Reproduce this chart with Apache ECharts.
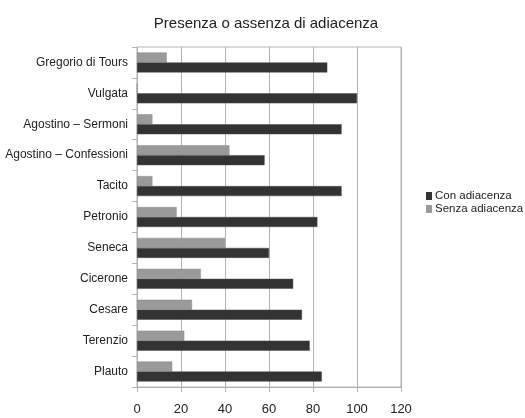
<!DOCTYPE html>
<html>
<head>
<meta charset="utf-8">
<script src="https://cdn.jsdelivr.net/npm/echarts@6/dist/echarts.min.js"></script>
<style>
  html, body { margin: 0; padding: 0; background: #ffffff; }
  #chart { width: 525px; height: 418px; }
</style>
</head>
<body>
<div id="chart"></div>
<script>
// Authors, listed bottom to top along the category axis
const categories = [
  'Plauto', 'Terenzio', 'Cesare', 'Cicerone', 'Seneca', 'Petronio',
  'Tacito', 'Agostino – Confessioni', 'Agostino – Sermoni', 'Vulgata', 'Gregorio di Tours'
];
const conAdiacenza = [84, 78.5, 75, 71, 60, 82, 93, 58, 93, 100, 86.5];
const senzaAdiacenza = [16, 21.5, 25, 29, 40, 18, 7, 42, 7, 0, 13.5];
const xTicks = [0, 20, 40, 60, 80, 100, 120];

const FONT = '"Liberation Sans", Arial, sans-serif';
const LINE = '#b3b3b3';
const CON_COLOR = '#333333';
const SENZA_COLOR = '#9a9a9a';

const chart = echarts.init(document.getElementById('chart'), null, { renderer: 'canvas' });
chart.setOption({
  animation: false,
  backgroundColor: '#ffffff',
  title: {
    text: 'Presenza o assenza di adiacenza',
    left: 261, top: 11, textAlign: 'center',
    textStyle: { fontFamily: FONT, fontSize: 15, fontWeight: 'normal', color: '#222' }
  },
  legend: {
    orient: 'vertical',
    left: 421, top: 185,
    icon: 'rect',
    itemWidth: 6, itemHeight: 8, itemGap: 1,
    textStyle: { fontFamily: FONT, fontSize: 11.5, color: '#222', padding: [0, 0, 0, -2] },
    data: [
      { name: 'Con adiacenza', itemStyle: { color: CON_COLOR, borderWidth: 0 } },
      { name: 'Senza adiacenza', itemStyle: { color: SENZA_COLOR, borderWidth: 0 } }
    ]
  },
  grid: {
    left: 137, top: 47, width: 264, height: 340,
    show: true, borderColor: LINE, borderWidth: 1, containLabel: false
  },
  xAxis: {
    type: 'value', min: xTicks[0], max: xTicks[xTicks.length - 1], interval: 20,
    axisLine: { show: true, lineStyle: { color: LINE } },
    axisTick: { show: true, length: 5, inside: false, lineStyle: { color: LINE } },
    splitLine: { show: true, lineStyle: { color: LINE } },
    axisLabel: { fontFamily: FONT, fontSize: 13, color: '#222', margin: 16 }
  },
  yAxis: {
    type: 'category', data: categories,
    axisLine: { show: true, lineStyle: { color: LINE } },
    axisTick: { show: true, length: 5, lineStyle: { color: LINE } },
    axisLabel: { fontFamily: FONT, fontSize: 12, color: '#222', margin: 9 }
  },
  // Senza is listed first so it sits above Con inside each category band
  series: [
    {
      name: 'Senza adiacenza', type: 'bar', data: senzaAdiacenza,
      barWidth: 10, barGap: '0%',
      itemStyle: { color: SENZA_COLOR, borderColor: '#8a8a8a', borderWidth: 0.5 }
    },
    {
      name: 'Con adiacenza', type: 'bar', data: conAdiacenza,
      barWidth: 10, barGap: '0%',
      itemStyle: { color: CON_COLOR, borderColor: '#4a4a4a', borderWidth: 0.5 }
    }
  ]
});
</script>
</body>
</html>
